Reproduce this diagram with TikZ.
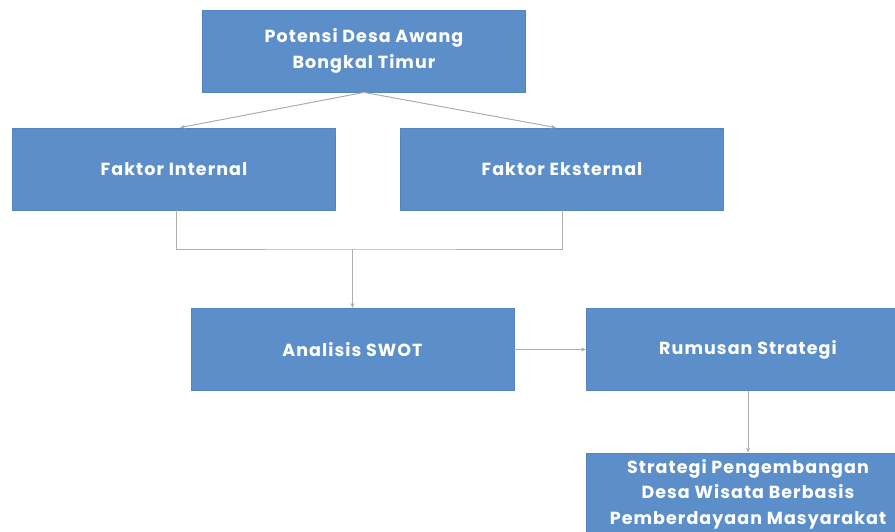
\documentclass[tikz,border=0pt]{standalone}
\usepackage{fontspec}
\setmainfont{Poppins}[LetterSpace=6]
\usetikzlibrary{arrows.meta,calc}
\definecolor{boxfill}{HTML}{5C8FCA}
\definecolor{boxline}{HTML}{5585C0}
\definecolor{linegray}{HTML}{ADADAD}
\begin{document}
\begin{tikzpicture}[x=1pt,y=-1pt,
  box/.style={rectangle,draw=boxline,fill=boxfill,line width=0.8pt,inner sep=0pt,
    minimum width=323pt,minimum height=82pt,text=white,align=center,
    font=\fontsize{17.5}{25.5}\selectfont\bfseries},
  conn/.style={draw=linegray,line width=1pt},
  arr/.style={conn,-{Stealth[length=5pt,width=4pt]}}]
\useasboundingbox (0,0) rectangle (895,532);
\node[box] (top) at (364,51) {Potensi Desa Awang\\Bongkal Timur};
\node[box] (fi) at (174,169) {Faktor Internal};
\node[box] (fe) at (562,169) {Faktor Eksternal};
\node[box] (swot) at (352.5,349.5) {Analisis SWOT};
\node[box] (rum) at (748,349.5) {Rumusan Strategi};
\node[box,yshift=-1pt] (fin) at (748,493) {Strategi Pengembangan\\Desa Wisata Berbasis\\Pemberdayaan Masyarakat};
\draw[arr] (top.south) -- ([xshift=6pt]fi.north);
\draw[arr] (top.south) -- ([xshift=-6pt]fe.north);
\coordinate (j) at (352,249);
\draw[conn] ([xshift=2pt]fi.south) |- (j) -| (fe.south);
\draw[arr] (swot.north |- j) -- (swot.north);
\draw[arr,line width=1.6pt] (swot.east) -- (rum.west);
\draw[arr] (rum.south) -- (fin.north);
\end{tikzpicture}
\end{document}
